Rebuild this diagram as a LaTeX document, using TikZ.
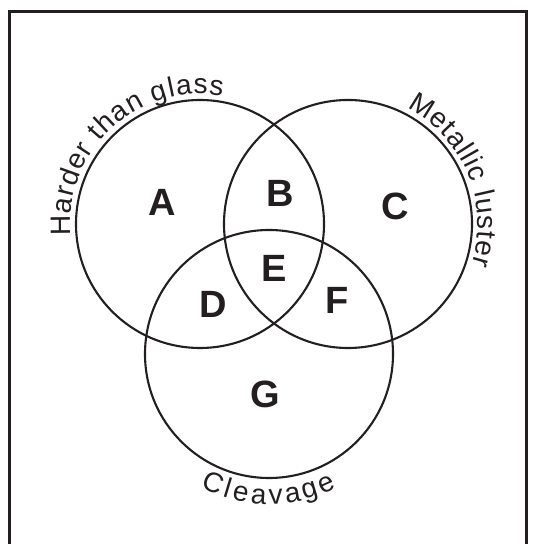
\documentclass[tikz,border=0pt]{standalone}
\usepackage{fontspec}
\setmainfont{Liberation Sans}
\setsansfont{Liberation Sans}
\usetikzlibrary{decorations.text}
\definecolor{ink}{HTML}{231F20}
\newcommand\labelfont{\fontsize{28}{28}\selectfont}
\begin{document}
\begin{tikzpicture}[x=1pt,y=1pt,
  ring/.style={circle, draw=ink, line width=2.1pt, minimum size=248pt, inner sep=0pt},
  region/.style={font=\fontsize{38}{38}\selectfont\bfseries, text=ink, inner sep=0pt},
  curved/.style={decorate, decoration={text along path, text align=fit to path, text color=ink, text={|\labelfont|#1}}},
  frame/.style={draw=ink, line width=3pt}
  ]
\useasboundingbox (0,0) rectangle (536,544);
\clip (0,0) rectangle (536,544);
\fill[white] (0,0) rectangle (536,544);
% frame
\coordinate (fbl) at (9,-10);
\coordinate (ftl) at (9,532);
\coordinate (ftr) at (526,532);
\coordinate (fbr) at (526,-10);
\draw[frame] (fbl) -- (ftl) -- (ftr) -- (fbr);
% circles
\node[ring] (hard) at (200,320) {};
\node[ring] (metal) at (348,320) {};
\node[ring] (cleave) at (269,190) {};
% curved labels
\path[curved={Harder than glass}] ([shift={(185:130)}]hard.center) arc[start angle=185, end angle=80, radius=130];
\path[curved={Metallic luster}] ([shift={(63:130)}]metal.center) arc[start angle=63, end angle=-18, radius=130];
\path[curved={Cleavage}] ([shift={(243:150)}]cleave.center) arc[start angle=243, end angle=297, radius=150];
% region letters
\node[region] (A) at (162,342) {A};
\node[region] (B) at (280,351) {B};
\node[region] (C) at (395,338) {C};
\node[region] (E) at (274,276) {E};
\node[region] (D) at (213,240) {D};
\node[region] (F) at (337,244) {F};
\node[region] (G) at (265,150) {G};
\end{tikzpicture}
\end{document}
